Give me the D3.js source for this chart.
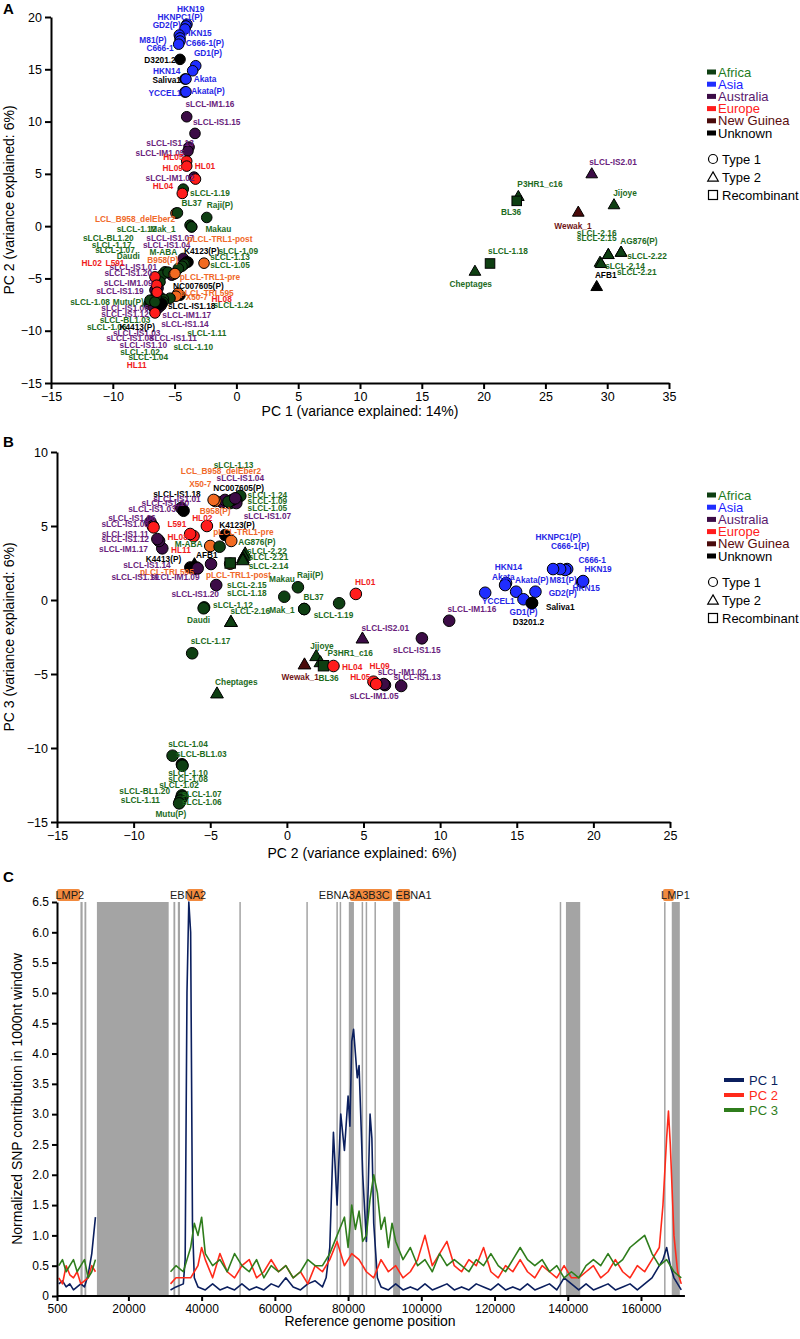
<!DOCTYPE html>
<html><head><meta charset="utf-8">
<script src="https://cdn.jsdelivr.net/npm/d3@7"></script>
<style>
body{margin:0;background:#fff;}
svg{font-family:"Liberation Sans",Arial,sans-serif;}
</style></head><body>
<svg id="c" width="800" height="1339"></svg>
<script>
// ---------- legend / categories ----------
const regionKeys   = ["Af","As","Au","Eu","NG","Un"];
const regionNames  = ["Africa","Asia","Australia","Europe","New Guinea","Unknown"];
const typeNames    = ["Type 1","Type 2","Recombinant"];
const typeKeys     = [1,2,"R"];

// ---------- Panel A : PC1 vs PC2 ----------
const ticksA_x = [-15,-10,-5,0,5,10,15,20,25,30,35];
const ticksA_y = [-15,-10,-5,0,5,10,15,20];
// name, region, type, PC1, PC2, labelPC1, labelPC2
const pointsA = [
["Cheptages","Af",2,19.3,-4.28,18.96,-5.58],
["sLCL-1.18","Af","R",20.52,-3.57,21.97,-2.36],
["P3HR1_c16","Af",2,22.81,2.87,24.56,4.02],
["BL36","Af","R",22.68,2.42,22.22,1.34],
["Wewak_1","NG",2,27.66,1.37,27.23,0.0],
["sLCL-IS2.01","Au",2,28.75,5.04,30.47,6.12],
["Jijoye","Af",2,30.55,2.08,31.44,3.16],
["sLCL-2.16","Af",2,30.09,-2.68,29.15,-0.67],
["sLCL-2.15","Af",2,30.09,-2.68,29.15,-1.15],
["AG876(P)","Af",2,31.12,-2.46,32.57,-1.41],
["sLCL-2.22","Af",2,31.12,-2.46,33.22,-2.84],
["sLCL-2.14","Af",2,29.42,-3.42,31.44,-3.8],
["sLCL-2.21","Af",2,29.5,-3.54,32.39,-4.43],
["AFB1","Un",2,29.15,-5.74,29.88,-4.69],
["HKN19","As",1,-4.0,19.3,-3.7,20.8],
["HKNPC1(P)","As",1,-4.08,19.14,-4.56,20.0],
["GD2(P)","As",1,-4.16,18.85,-5.64,19.25],
["M81(P)","As",1,-4.62,18.28,-6.75,17.8],
["HKN15","As",1,-4.56,18.0,-3.1,18.45],
["C666-1(P)","As",1,-4.56,17.7,-2.54,17.5],
["C666-1","As",1,-4.67,17.4,-6.18,17.06],
["D3201.2","Un",1,-4.56,15.95,-6.18,15.9],
["GD1(P)","As",1,-3.29,15.34,-2.3,16.56],
["HKN14","As",1,-3.54,14.86,-5.64,14.86],
["Saliva1","Un",1,-4.16,14.07,-5.64,13.97],
["Akata","As",1,-4.08,14.07,-2.54,14.07],
["YCCEL1","As",1,-4.16,12.82,-5.78,12.7],
["Akata(P)","As",1,-4.08,12.85,-2.3,12.95],
["sLCL-IM1.16","Au",1,-4.02,10.46,-2.14,11.67],
["sLCL-IS1.15","Au",1,-3.35,8.87,-1.59,9.98],
["sLCL-IS1.13","Au",1,-3.83,7.56,-5.37,7.97],
["sLCL-IM1.05","Au",1,-3.92,7.18,-6.18,7.01],
["HL05","Eu",1,-4.02,6.22,-5.1,6.63],
["HL09","Eu",1,-4.02,5.74,-5.15,5.52],
["sLCL-IM1.02","Au",1,-3.43,4.69,-5.37,4.59],
["HL01","Eu",1,-3.31,4.5,-2.54,5.74],
["sLCL-1.19","Af",1,-4.3,3.54,-2.14,3.19],
["HL04","Eu",1,-4.38,3.13,-5.94,3.83],
["LCL_B958_delEber2","Lab",1,-4.89,1.24,-8.2,0.64],
["BL37","Af",1,-4.77,1.27,-3.62,2.23],
["Raji(P)","Af",1,-2.4,0.83,-1.33,2.0],
["sLCL-1.12","Af",1,-3.75,0.1,-8.08,-0.3],
["Mak_1","Af",1,-3.62,-0.07,-5.94,-0.3],
["Makau","Af",1,-3.62,-0.07,-1.46,-0.29],
["sLCL-IS1.04","Au",1,-4.3,-3.09,-5.64,-1.82],
["sLCL-IS1.07","Au",1,-4.02,-3.42,-5.37,-1.18],
["K4123(P)","Un",1,-3.92,-3.44,-2.81,-2.36],
["sLCL-1.09","Af",1,-4.16,-3.57,0.15,-2.36],
["sLCL-1.13","Af",1,-4.24,-3.64,-0.52,-2.94],
["sLCL-1.05","Af",1,-4.4,-3.83,-0.52,-3.73],
["sLCL-BL1.20","Af",1,-4.7,-4.05,-10.36,-1.18],
["sLCL-1.17","Af",1,-5.78,-4.37,-10.09,-1.82],
["sLCL-IS1.01","Au",1,-5.23,-4.69,-8.34,-3.89],
["sLCL-1.07","Af",1,-6.02,-4.69,-9.82,-2.3],
["M-ABA","Af",1,-5.53,-4.4,-5.91,-2.46],
["Daudi","Af",1,-6.18,-5.33,-8.75,-2.87],
["sLCL-IM1.09","Au",1,-6.34,-5.93,-8.75,-5.43],
["sLCL-IS1.20","Au",1,-6.59,-6.12,-8.75,-4.47],
["NC007605(P)","Un",1,-4.56,-6.6,-3.08,-5.74],
["pLCL-TRL595","Lab",1,-4.72,-6.41,-2.4,-6.38],
["X50-7","Lab",1,-4.89,-6.7,-3.21,-6.82],
["sLCL-1.24","Af",1,-5.37,-6.89,-0.25,-7.56],
["sLCL-IS1.19","Au",1,-6.18,-6.77,-9.42,-6.19],
["sLCL-1.10","Af",1,-5.9,-7.0,-3.49,-11.61],
["sLCL-1.11","Af",1,-5.94,-7.27,-2.4,-10.21],
["sLCL-IS1.11","Au",1,-6.1,-7.6,-5.1,-10.75],
["sLCL-IS1.14","Au",1,-6.42,-7.66,-4.16,-9.41],
["sLCL-IM1.17","Au",1,-6.34,-7.85,-4.02,-8.52],
["sLCL-IS1.18","Un",1,-6.04,-7.4,-3.62,-7.66],
["sLCL-1.02","Af",1,-6.8,-7.1,-7.8,-12.03],
["sLCL-1.04","Af",1,-6.5,-6.7,-7.13,-12.56],
["sLCL-1.06","Af",1,-7.07,-7.46,-10.49,-9.64],
["sLCL-BL1.03","Af",1,-6.91,-7.37,-9.01,-9.0],
["sLCL-IS1.03","Au",1,-6.8,-7.6,-8.07,-10.21],
["sLCL-IS1.08","Au",1,-6.7,-7.7,-8.61,-10.75],
["sLCL-IS1.10","Au",1,-6.6,-7.8,-7.53,-11.39],
["sLCL-IS1.12","Au",1,-6.83,-7.46,-9.01,-8.42],
["sLCL-IS1.06","Au",1,-6.72,-7.72,-9.01,-7.88],
["K4413(P)","Un",1,-6.26,-7.56,-8.02,-9.69],
["sLCL-1.08","Af",1,-6.99,-7.08,-11.84,-7.24],
["Mutu(P)","Af",1,-6.59,-7.24,-8.75,-7.24],
["HL02","Eu",1,-6.59,-4.85,-11.71,-3.51],
["L591","Eu",1,-6.45,-5.65,-9.82,-3.51],
["HL08","Eu",1,-6.42,-6.32,-1.19,-6.96],
["HL11","Eu",1,-6.59,-8.3,-8.07,-13.3],
["B958(P)","Lab",1,-5.05,-4.59,-5.96,-3.25],
["pLCL-TRL1-pre","Lab",1,-4.97,-4.53,-2.14,-4.85],
["pLCL-TRL1-post","Lab",1,-2.62,-3.54,-1.33,-1.27]
];

// ---------- Panel B : PC2 vs PC3 ----------
const ticksB_x = [-15,-10,-5,0,5,10,15,20,25];
const ticksB_y = [-15,-10,-5,0,5,10];
// name, region, type, PC2, PC3, labelPC2, labelPC3
const pointsB = [
["Cheptages","Af",2,-4.56,-6.3,-3.3,-5.54],
["sLCL-1.17","Af",1,-6.18,-3.6,-4.98,-2.77],
["sLCL-2.15","Af",2,-3.65,-1.47,-2.61,1.01],
["sLCL-2.16","Af",2,-3.65,-1.47,-2.39,-0.74],
["sLCL-1.12","Af",1,-5.4,-0.5,-3.52,-0.34],
["Daudi","Af",1,-5.43,-0.56,-5.76,-1.35],
["sLCL-IS1.20","Au",1,-4.61,1.01,-5.98,0.41],
["pLCL-TRL1-post","Lab",1,-3.7,2.45,-3.16,1.69],
["sLCL-1.18","Af","R",-3.7,2.5,-2.61,0.49],
["AG876(P)","Af",2,-2.72,3.16,-1.96,3.94],
["sLCL-2.22","Af",2,-2.8,3.0,-1.3,3.31],
["sLCL-2.21","Af",2,-2.87,2.82,-1.2,2.93],
["sLCL-2.14","Af",2,-2.87,2.7,-1.2,2.3],
["pLCL-TRL595","Lab",1,-5.9,2.2,-7.83,1.91],
["sLCL-IS1.19","Au",1,-5.9,2.1,-9.9,1.53],
["K4413(P)","Un",1,-6.3,2.2,-8.05,2.77],
["AFB1","Un",2,-6.03,2.43,-5.22,3.04],
["sLCL-IS1.14","Au",1,-5.82,2.14,-9.13,2.36],
["sLCL-IM1.09","Au",1,-4.95,2.43,-7.29,1.53],
["B958(P)","Lab",1,-5.0,3.65,-4.68,6.03],
["M-ABA","Af",1,-4.39,3.6,-6.41,3.76],
["K4123(P)","Un",1,-4.02,4.39,-3.26,5.07],
["pLCL-TRL1-pre","Lab",1,-3.63,3.99,-2.84,4.61],
["sLCL-IM1.17","Au",1,-8.13,3.49,-10.66,3.43],
["sLCL-IS1.12","Au",1,-8.34,3.99,-10.55,4.1],
["sLCL-IS1.11","Au",1,-8.45,4.12,-10.55,4.44],
["sLCL-IS1.06","Au",1,-8.9,5.27,-10.11,5.52],
["sLCL-IS1.08","Au",1,-8.75,5.0,-10.55,5.11],
["L591","Eu",1,-8.7,4.91,-7.18,5.11],
["HL11","Eu",1,-6.09,4.32,-6.91,3.38],
["HL08","Eu",1,-6.31,4.46,-7.13,4.24],
["HL02","Eu",1,-5.22,5.0,-5.52,5.52],
["sLCL-IS1.03","Au",1,-6.89,6.22,-8.8,6.13],
["sLCL-IS1.18","Un",1,-6.74,6.03,-7.17,7.18],
["sLCL-IS1.01","Au",1,-4.23,6.62,-7.17,6.84],
["sLCL-IS1.10","Au",1,-4.04,6.76,-7.93,6.57],
["sLCL-1.24","Af",1,-3.04,7.03,-1.27,7.09],
["sLCL-1.09","Af",1,-3.3,6.76,-1.27,6.69],
["sLCL-1.05","Af",1,-3.7,6.55,-1.27,6.22],
["sLCL-IS1.07","Au",1,-3.3,6.55,-1.27,5.68],
["LCL_B958_delEber2","Lab",1,-4.67,6.69,-4.3,8.70],
["X50-7","Lab",1,-4.78,6.76,-5.65,7.82],
["NC007605(P)","Un",1,-3.57,6.76,-3.15,7.59],
["sLCL-1.13","Af",1,-3.81,6.64,-3.48,9.12],
["sLCL-IS1.04","Au",1,-3.37,6.87,-3.04,8.22],
["Makau","Af",1,-0.17,0.22,-0.32,1.4],
["Raji(P)","Af",1,0.72,0.86,1.52,1.69],
["Mak_1","Af",1,1.13,-0.61,-0.32,-0.68],
["BL37","Af",1,1.13,-0.61,1.74,0.22],
["sLCL-1.19","Af",1,3.41,-0.22,3.04,-1.01],
["HL01","Eu",1,4.5,0.41,5.11,1.24],
["Wewak_1","NG",2,1.15,-4.34,0.87,-5.18],
["Jijoye","Af",2,1.91,-3.78,2.29,-3.09],
["P3HR1_c16","Af",2,2.19,-4.19,4.13,-3.6],
["BL36","Af","R",2.39,-4.44,2.72,-5.29],
["HL04","Eu",1,3.04,-4.46,4.26,-4.53],
["sLCL-IS2.01","Au",2,4.93,-2.59,6.42,-1.91],
["sLCL-IM1.05","Au",1,6.4,-5.75,5.69,-6.49],
["sLCL-IM1.02","Au",1,6.32,-5.68,7.52,-4.84],
["HL05","Eu",1,5.65,-5.52,4.79,-5.18],
["HL09","Eu",1,5.83,-5.68,6.05,-4.46],
["sLCL-IS1.13","Au",1,7.46,-5.81,8.5,-5.18],
["sLCL-IS1.15","Au",1,8.81,-2.59,8.48,-3.38],
["sLCL-IM1.16","Au",1,10.59,-1.4,12.07,-0.63],
["YCCEL1","As",1,12.94,0.49,13.8,-0.07],
["HKN14","As",1,14.3,1.15,14.46,2.21],
["Akata","As",1,14.24,1.01,14.13,1.57],
["Akata(P)","As",1,14.96,0.56,15.98,1.35],
["GD1(P)","As",1,15.44,0.05,15.44,-0.79],
["D3201.2","Un",1,15.98,-0.22,15.76,-1.47],
["Saliva1","Un",1,16.0,-0.2,17.84,-0.47],
["GD2(P)","As",1,16.22,0.56,18.0,0.47],
["M81(P)","As",1,18.29,2.09,18.03,1.35],
["C666-1","As",1,18.16,2.03,19.92,2.7],
["C666-1(P)","As",1,17.83,2.09,18.48,3.65],
["HKNPC1(P)","As",1,17.37,2.09,17.7,4.26],
["HKN15","As",1,19.27,1.22,19.53,0.81],
["HKN19","As",1,19.33,1.28,20.31,2.09],
["sLCL-1.04","Af",1,-7.46,-10.52,-6.45,-9.73],
["sLCL-1.10","Af",1,-6.85,-11.1,-6.45,-11.71],
["sLCL-1.08","Af",1,-6.83,-11.15,-6.45,-12.12],
["sLCL-BL1.03","Af",1,-6.81,-11.2,-5.58,-10.43],
["sLCL-1.02","Af",1,-6.85,-13.2,-7.04,-12.5],
["sLCL-BL1.20","Af",1,-6.9,-13.4,-9.28,-12.9],
["sLCL-1.07","Af",1,-6.81,-13.29,-5.55,-13.13],
["sLCL-1.11","Af",1,-6.98,-13.63,-9.56,-13.51],
["sLCL-1.06","Af",1,-6.95,-13.55,-5.55,-13.67],
["Mutu(P)","Af",1,-7.03,-13.74,-7.57,-14.46]
];

// ---------- Panel C : SNP contributions ----------
const ticksC_x = [500,20000,40000,60000,80000,100000,120000,140000,160000];
const ticksC_y = [0,0.5,1,1.5,2,2.5,3,3.5,4,4.5,5,5.5,6,6.5];
const pcNames = ["PC 1","PC 2","PC 3"];
// masked (grey) regions of the reference genome
const maskedRegions = [[6900,7500],[8000,8500],[11400,31000],[32300,32800],[33500,34100],[50300,50700],[68600,69000],[76800,77200],[77700,78100],[80200,81600],[83700,84100],[84800,85200],[87200,87600],[92300,94200],[137800,138200],[139500,143400],[166300,166700],[168400,170600]];
// genes: label, start, end, label position
const genes = [["LMP2",500,6800,4000],["EBNA2",36000,40500,36300],["EBNA3A3B3C",80500,92000,81700],["EBNA1",93500,97000,97900],["LMP1",166000,169000,169400]];
const pc1 = [[1000,0.2],[2000,0.25],[3000,0.15],[4000,0.2],[5000,0.1],[6000,0.15],[7000,0.2],[8000,0.15],[9000,0.35],[10000,0.7],[11000,1.3],[11400,null],
[31500,0.1],[33000,0.15],[35000,0.2],[35500,0.6],[36000,5.0],[36500,6.5],[37000,6.0],[37500,1.2],[38000,0.3],[39000,0.15],[41000,0.1],[43000,0.2],[45000,0.1],[47000,0.15],[49000,0.1],[51000,0.2],[53000,0.1],[55000,0.15],[57000,0.1],[59000,0.2],[61000,0.15],[63000,0.3],[65000,0.15],[67000,0.1],[69000,0.2],[71000,0.25],[73000,0.15],[74000,0.3],[75000,0.8],[76000,2.7],[77000,1.5],[78000,3.0],[79000,2.4],[80000,3.3],[80500,2.8],[81000,4.2],[81500,4.4],[82000,4.0],[82500,3.6],[83000,3.8],[84000,2.0],[85000,0.9],[85500,1.8],[86000,3.0],[86500,2.6],[87000,1.2],[88000,0.3],[89000,0.15],[91000,0.1],[93000,0.2],[95000,0.1],[97000,0.15],[99000,0.1],[101000,0.2],[103000,0.1],[105000,0.15],[107000,0.2],[109000,0.1],[111000,0.15],[113000,0.1],[115000,0.2],[117000,0.15],[119000,0.1],[121000,0.2],[123000,0.1],[125000,0.15],[127000,0.1],[129000,0.2],[131000,0.1],[133000,0.15],[135000,0.2],[137000,0.1],[139000,0.3],[141000,0.2],[143000,0.1],[145000,0.2],[147000,0.1],[149000,0.15],[151000,0.2],[153000,0.1],[155000,0.15],[157000,0.2],[159000,0.1],[161000,0.2],[163000,0.3],[165000,0.5],[166000,0.6],[167000,0.8],[168000,0.5],[169000,0.3],[170000,0.2],[171000,0.1]];
const pc2 = [[1000,0.3],[2000,0.2],[3000,0.5],[4000,0.35],[5000,0.3],[6000,0.4],[7000,0.2],[8000,0.25],[9000,0.3],[10000,0.5],[11000,0.4],[11400,null],
[31500,0.2],[33000,0.3],[35000,0.3],[37000,0.3],[39000,0.5],[40000,0.8],[41000,0.6],[43000,0.3],[45000,0.7],[47000,0.4],[49000,0.3],[51000,0.5],[53000,0.6],[55000,0.3],[57000,0.4],[59000,0.6],[61000,0.4],[63000,0.5],[65000,0.3],[67000,0.4],[69000,0.2],[71000,0.5],[73000,0.4],[75000,0.6],[77000,0.9],[79000,0.5],[81000,0.7],[83000,0.6],[85000,0.4],[87000,0.3],[89000,0.6],[91000,0.4],[93000,0.5],[95000,0.3],[97000,0.4],[99000,0.6],[101000,1.0],[103000,0.5],[105000,0.7],[107000,0.9],[109000,0.5],[111000,0.4],[113000,0.6],[115000,0.5],[117000,0.8],[119000,0.4],[121000,0.3],[123000,0.5],[125000,0.4],[127000,0.6],[129000,0.4],[131000,0.3],[133000,0.5],[135000,0.4],[137000,0.3],[139000,0.5],[141000,0.3],[143000,0.3],[145000,0.4],[147000,0.5],[149000,0.3],[151000,0.4],[153000,0.6],[155000,0.4],[157000,0.3],[159000,0.5],[161000,0.4],[163000,0.6],[165000,0.8],[166000,1.5],[167000,2.6],[167500,3.05],[168000,2.5],[169000,1.0],[170000,0.4],[171000,0.2]];
const pc3 = [[1000,0.5],[2000,0.6],[3000,0.4],[4000,0.5],[5000,0.6],[6000,0.4],[7000,0.5],[8000,0.6],[9000,0.3],[10000,0.4],[11000,0.6],[11400,null],
[31500,0.4],[33000,0.5],[35000,0.4],[36000,0.6],[37000,0.8],[38000,1.2],[39000,1.0],[40000,1.3],[41000,0.7],[43000,0.5],[45000,0.6],[47000,0.4],[49000,0.7],[51000,0.5],[53000,0.4],[55000,0.6],[57000,0.3],[59000,0.5],[61000,0.4],[63000,0.5],[65000,0.3],[67000,0.4],[69000,0.6],[71000,0.5],[73000,0.5],[75000,0.7],[77000,1.0],[79000,1.3],[80000,0.8],[81000,1.5],[82000,1.1],[83000,1.4],[84000,0.9],[85000,1.0],[86000,1.6],[87000,2.0],[88000,1.7],[89000,1.1],[90000,1.3],[91000,0.8],[92000,1.2],[93000,0.9],[95000,0.6],[97000,0.8],[99000,0.5],[101000,0.6],[103000,0.4],[105000,0.7],[107000,0.5],[109000,0.6],[111000,0.5],[113000,0.4],[115000,0.6],[117000,0.5],[119000,0.7],[121000,0.5],[123000,0.4],[125000,0.6],[127000,0.8],[129000,0.6],[131000,0.5],[133000,0.6],[135000,0.4],[137000,0.5],[139000,0.3],[141000,0.4],[143000,0.3],[145000,0.5],[147000,0.6],[149000,0.5],[151000,0.7],[153000,0.5],[155000,0.6],[157000,0.8],[159000,0.9],[161000,1.0],[163000,0.7],[165000,0.5],[167000,0.6],[169000,0.4],[171000,0.3]];

// ---------- styling ----------
const fillCol  = {Af:"#0e3f12",As:"#1f2dff",Au:"#3c0c46",Eu:"#ff1c1c",NG:"#4a0b0b",Un:"#000000",Lab:"#f26a21"};
const labelCol = {Af:"#1d6b1d",As:"#2626e6",Au:"#6a1e7c",Eu:"#f01c1c",NG:"#701414",Un:"#000000",Lab:"#f0692a"};
const legendTextCol = {Af:"#1e7b1e",As:"#1c1cff",Au:"#5a1a6e",Eu:"#ff2020",NG:"#5a0c0c",Un:"#000000"};
const pcCol = ["#0b1f5e","#ff2a1a","#2f7d1c"];

const svg = d3.select("#c");

function styleAxis(g){
  g.selectAll(".domain").attr("stroke","#000").attr("stroke-width",2);
  g.selectAll(".tick line").attr("stroke","#000").attr("stroke-width",2);
  g.selectAll(".tick text").attr("fill","#000").attr("font-size",12.5).attr("font-family","Liberation Sans, Arial, sans-serif");
}

function marker(g, type, cx, cy, fill, r){
  if(type===1){
    g.append("circle").attr("cx",cx).attr("cy",cy).attr("r",r).attr("fill",fill).attr("stroke","#000").attr("stroke-width",1);
  } else if(type===2){
    g.append("path").attr("d",d3.symbol(d3.symbolTriangle, r*r*2.1)()).attr("transform",`translate(${cx},${cy+1})`)
     .attr("fill",fill).attr("stroke","#000").attr("stroke-width",1);
  } else {
    const s=r*1.8;
    g.append("rect").attr("x",cx-s/2).attr("y",cy-s/2).attr("width",s).attr("height",s).attr("fill",fill).attr("stroke","#000").attr("stroke-width",1);
  }
}

function scatter(pts, x, y, r){
  const g = svg.append("g");
  pts.forEach(p=>marker(g,p[2],x(p[3]),y(p[4]),fillCol[p[1]],r));
  const lg = svg.append("g");
  pts.forEach(p=>{
    lg.append("text").attr("x",x(p[5])).attr("y",y(p[6])).attr("dy","0.35em")
      .attr("text-anchor","middle").attr("font-size",8.3).attr("font-weight","bold")
      .attr("fill",labelCol[p[1]]).text(p[0]);
  });
}

function legend(x0, y0){
  const g = svg.append("g");
  regionKeys.forEach((k,i)=>{
    const yy = y0 + i*12.2;
    g.append("rect").attr("x",x0).attr("y",yy-2.5).attr("width",9).attr("height",5).attr("fill",fillCol[k]);
    g.append("text").attr("x",x0+11).attr("y",yy).attr("dy","0.35em").attr("font-size",13).attr("fill",legendTextCol[k]).text(regionNames[i]);
  });
  typeKeys.forEach((t,i)=>{
    const yy = y0 + 87 + i*18;
    const cx = x0+6;
    if(t===1) g.append("circle").attr("cx",cx).attr("cy",yy).attr("r",4.5).attr("fill","none").attr("stroke","#000").attr("stroke-width",1.2);
    else if(t===2) g.append("path").attr("d",d3.symbol(d3.symbolTriangle,48)()).attr("transform",`translate(${cx},${yy+1})`).attr("fill","none").attr("stroke","#000").attr("stroke-width",1.2);
    else g.append("rect").attr("x",cx-4.5).attr("y",yy-4.5).attr("width",9).attr("height",9).attr("fill","none").attr("stroke","#000").attr("stroke-width",1.2);
    g.append("text").attr("x",x0+15).attr("y",yy).attr("dy","0.35em").attr("font-size",13).attr("fill","#000").text(typeNames[i]);
  });
}

function panelLetter(t,x,y){
  svg.append("text").attr("x",x).attr("y",y).attr("font-size",15).attr("font-weight","bold").text(t);
}
function axisTitle(t,x,y,rot){
  svg.append("text").attr("transform",`translate(${x},${y})${rot?" rotate(-90)":""}`).attr("text-anchor","middle")
    .attr("font-size",14).attr("fill","#000").text(t);
}

// ---------- Panel A ----------
const xA = d3.scaleLinear().domain([-15,35]).range([51,669]);
const yA = d3.scaleLinear().domain([-15,20]).range([383,17]);
svg.append("g").attr("transform","translate(0,383)").call(d3.axisBottom(xA).tickValues(ticksA_x).tickSize(6).tickSizeOuter(0)).call(styleAxis);
svg.append("g").attr("transform","translate(51,0)").call(d3.axisLeft(yA).tickValues(ticksA_y).tickSize(6).tickSizeOuter(0)).call(styleAxis);
scatter(pointsA, xA, yA, 5.3);
legend(707, 72);
panelLetter("A",3,14);
axisTitle("PC 1  (variance explained: 14%)", 360, 416, false);
axisTitle("PC 2  (variance explained: 6%)", 14, 200, true);

// ---------- Panel B ----------
const xB = d3.scaleLinear().domain([-15,25]).range([57,670]);
const yB = d3.scaleLinear().domain([-15,10]).range([822,452]);
svg.append("g").attr("transform","translate(0,822)").call(d3.axisBottom(xB).tickValues(ticksB_x).tickSize(6).tickSizeOuter(0)).call(styleAxis);
svg.append("g").attr("transform","translate(57,0)").call(d3.axisLeft(yB).tickValues(ticksB_y).tickSize(6).tickSizeOuter(0)).call(styleAxis);
scatter(pointsB, xB, yB, 5.8);
legend(707, 495);
panelLetter("B",3,447);
axisTitle("PC 2  (variance explained: 6%)", 362, 858, false);
axisTitle("PC 3  (variance explained: 6%)", 14, 637, true);

// ---------- Panel C ----------
const xC = d3.scaleLinear().domain([500,160000]).range([57,641]);
const yC = d3.scaleLinear().domain([0,6.5]).range([1296,902]);
const xEnd = xC(172000);
const gC = svg.append("g");
maskedRegions.forEach(m=>{
  gC.append("rect").attr("x",xC(m[0])).attr("y",yC(6.5)).attr("width",Math.max(1.5,xC(m[1])-xC(m[0]))).attr("height",yC(0)-yC(6.5)).attr("fill","#a4a4a4");
});
[pc1,pc2,pc3].forEach((s,i)=>{
  gC.append("path").datum(s).attr("fill","none").attr("stroke",pcCol[i]).attr("stroke-width",1.6).attr("stroke-linejoin","round")
    .attr("d",d3.line().defined(d=>d[1]!==null).x(d=>xC(d[0])).y(d=>yC(d[1])));
});
genes.forEach(g=>{
  gC.append("rect").attr("x",xC(g[1])).attr("y",889).attr("width",xC(g[2])-xC(g[1])).attr("height",12).attr("rx",2).attr("fill","#f28a3e");
  gC.append("text").attr("x",xC(g[3])).attr("y",895).attr("dy","0.35em").attr("text-anchor","middle").attr("font-size",11).attr("fill","#1a1a1a").text(g[0]);
});
const axC = svg.append("g").attr("transform","translate(0,1296)").call(d3.axisBottom(xC).tickValues(ticksC_x).tickSize(5).tickSizeOuter(0).tickFormat(d3.format("d"))).call(styleAxis);
axC.select(".domain").attr("d",`M${xC(500)},0H${xEnd}`);
axC.selectAll(".tick text").attr("font-size",12);
const ayC = svg.append("g").attr("transform","translate(57,0)").call(d3.axisLeft(yC).tickValues(ticksC_y).tickSize(5).tickSizeOuter(0).tickFormat(d=>d===0?"0":d.toFixed(1))).call(styleAxis);
ayC.selectAll(".tick text").attr("font-size",12);
panelLetter("C",3,882);
axisTitle("Reference genome position", 370, 1326, false);
axisTitle("Normalized SNP contribution in 1000nt window", 22, 1099, true);
// legend C
pcNames.forEach((n,i)=>{
  const yy = 1080 + i*15;
  svg.append("line").attr("x1",724).attr("x2",744).attr("y1",yy).attr("y2",yy).attr("stroke",pcCol[i]).attr("stroke-width",4);
  svg.append("text").attr("x",749).attr("y",yy).attr("dy","0.35em").attr("font-size",13).attr("fill",pcCol[i]).text(n);
});
</script>
</body></html>
